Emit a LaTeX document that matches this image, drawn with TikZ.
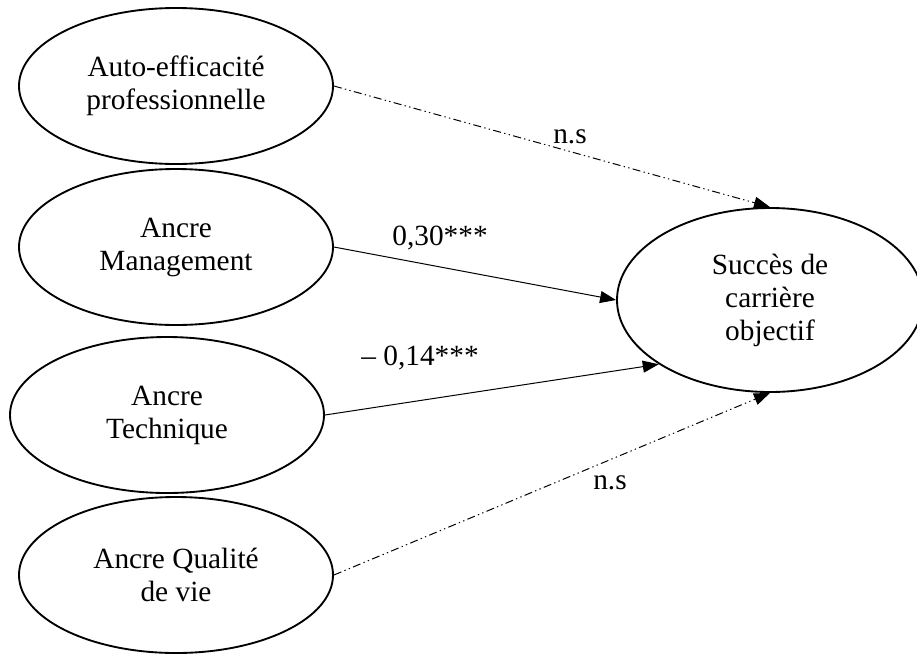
\documentclass[tikz,border=0pt]{standalone}
\usepackage{fontspec}
\setmainfont{Liberation Serif}
\usetikzlibrary{shapes.geometric,arrows.meta}
\tikzset{
  latent/.style={draw, ellipse, line width=1.4pt, inner sep=0pt, align=center,
    minimum width=235.5pt, minimum height=117pt, font=\fontsize{22}{24.75}\selectfont},
  path/.style={line width=0.75pt, -{Triangle[length=12pt,width=9pt]}},
  nspath/.style={path, dash pattern=on 6pt off 2.5pt on 1pt off 2.5pt on 1pt off 2.5pt},
  coef/.style={font=\fontsize{22}{24.75}\selectfont, inner sep=0pt}
}
\begin{document}
\begin{tikzpicture}[x=0.75pt,y=-0.75pt]
	
	%The frame
	\useasboundingbox (0,0) rectangle (917,654);

    %Predictors
    \node[latent] (autoeff) at (176,86) {Auto-efficacité\\professionnelle};
    \node[latent] (management) at (176,247) {Ancre\\Management};
    \node[latent] (technique) at (167,415) {Ancre\\Technique};
    \node[latent] (qualite) at (176,575) {Ancre Qualité\\de vie};

    %Outcome
    \node[latent, minimum width=229.5pt, minimum height=138pt] (succes) at (770,300) {Succès de\\carrière\\objectif};

    %Paths
    \draw[nspath] (autoeff.east) -- (succes.north);
    \draw[path] (management.east) -- (succes.west);
    \draw[path] (technique.east) -- (succes.210);
    \draw[nspath] (qualite.east) -- (succes.south);

    %Coefficients
    \node[coef] (c1) at (570,137) {n.s};
    \node[coef] (c2) at (440,238) {0,30***};
    \node[coef] (c3) at (420,358) {– 0,14***};
    \node[coef] (c4) at (610,483) {n.s};

\end{tikzpicture}
\end{document}
